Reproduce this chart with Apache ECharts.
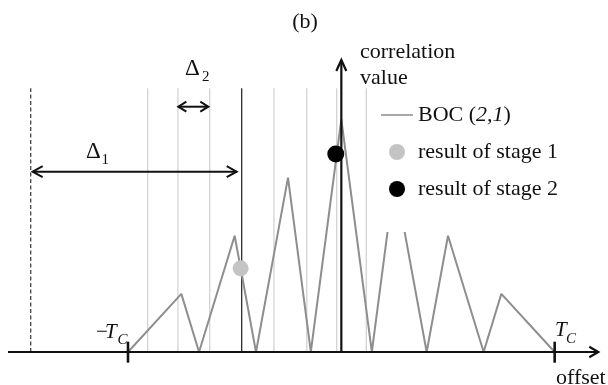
<!DOCTYPE html>
<html><head><meta charset="utf-8">
<script src="https://cdn.jsdelivr.net/npm/echarts@6/dist/echarts.min.js"></script>
<style>html,body{margin:0;padding:0;background:#fff}#c{width:608px;height:385px}</style>
</head><body><div id="c"></div>
<script>
// ---- data (offset in units of Tc, normalised correlation value) ----
const bocOffset = [-1, -0.75, -0.667, -0.5, -0.4, -0.25, -0.143, 0, 0.143, 0.25, 0.4, 0.5, 0.667, 0.75, 1];
const bocValue  = [0, 0.25, 0, 0.5, 0, 0.75, 0, 1, 0, 0.75, 0, 0.5, 0, 0.25, 0];
const stage1Point = [-0.472, 0.36];
const stage2Point = [-0.026, 0.852];
const searchGrid = [-0.908, -0.766, -0.617, -0.316, -0.162, -0.022, 0.117];
const stage1Line = -0.467;
const startLine = -1.456;
const lineTop = 1.134;
const tickOffsets = [-1, 1];
const delta1 = [-1.447, -0.4905, 0.7755];   // from, to, level
const delta2 = [-0.764, -0.6236, 1.055];
const xRange = [-1.6, 1.25];
const yRange = [-0.142, 1.514];
const xAxisEnds = [-1.5625, 1.2045];
const yAxisTop = 1.256;

const W = 608, H = 385;
const kx = W / (xRange[1] - xRange[0]);
const ky = H / (yRange[1] - yRange[0]);
const FONT = '"Liberation Serif", "Times New Roman", serif';

function hArrow(tip, dir, len, half) {
  return [[tip[0] - dir * len / kx, tip[1] + half / ky], tip, [tip[0] - dir * len / kx, tip[1] - half / ky]];
}
function vArrow(tip, len, half) {
  return [[tip[0] - half / kx, tip[1] - len / ky], tip, [tip[0] + half / kx, tip[1] - len / ky]];
}
function vLine(u, top) { return {coords: [[u, 0], [u, top]]}; }

const axisPolys = [
  {coords: [[xAxisEnds[0], 0], [xAxisEnds[1], 0]]},
  {coords: hArrow([xAxisEnds[1], 0], 1, 9, 5.3)},
  {coords: [[0, 0], [0, yAxisTop]]},
  {coords: vArrow([0, yAxisTop], 11, 5)}
];
const tickPolys = tickOffsets.map(u => ({coords: [[u, 0.0443], [u, -0.046]]}));
const deltaPolys = [
  {coords: [[delta1[0], delta1[2]], [delta1[1], delta1[2]]]},
  {coords: hArrow([delta1[0], delta1[2]], -1, 10, 5.5)},
  {coords: hArrow([delta1[1], delta1[2]], 1, 10, 5.5)},
  {coords: [[delta2[0], delta2[2]], [delta2[1], delta2[2]]]},
  {coords: hArrow([delta2[0], delta2[2]], -1, 8, 5)},
  {coords: hArrow([delta2[1], delta2[2]], 1, 8, 5)}
];

const chart = echarts.init(document.getElementById('c'), null, {renderer: 'canvas'});
function txt(text, x, y, size, opts) {
  return Object.assign({type: 'text', x: x, y: y, z: 50, style: Object.assign({
    text: text, fill: '#111', font: (opts && opts.italic ? 'italic ' : '') + size + 'px ' + FONT,
    align: 'left', verticalAlign: 'middle'
  }, opts && opts.style || {})});
}
chart.setOption({
  animation: false,
  backgroundColor: '#fff',
  grid: {left: 0, right: 0, top: 0, bottom: 0},
  xAxis: {type: 'value', min: xRange[0], max: xRange[1], show: false},
  yAxis: {type: 'value', min: yRange[0], max: yRange[1], show: false},
  legend: {
    orient: 'vertical', left: 373, top: 98, selectedMode: false,
    itemWidth: 32, itemHeight: 16, itemGap: 15, symbolKeepAspect: true,
    padding: [6, 8, 32, 8], backgroundColor: '#fff', z: 20,
    data: [
      {name: 'BOC (2,1)', icon: 'path://M0,0 L32,0 L32,2 L0,2 Z', itemStyle: {color: '#a8a8a8'}},
      {name: 'result of stage 1', icon: 'circle'},
      {name: 'result of stage 2', icon: 'circle'}
    ],
    formatter: function (n) { return n === 'BOC (2,1)' ? 'BOC ({i|2,1})' : n; },
    textStyle: {fontFamily: FONT, fontSize: 22, color: '#111', lineHeight: 22,
      rich: {i: {fontFamily: FONT, fontSize: 22, fontStyle: 'italic', color: '#111'}}}
  },
  series: [
    {type: 'lines', coordinateSystem: 'cartesian2d', polyline: true, silent: true, z: 1,
      lineStyle: {color: '#d3d3d3', width: 1.3, opacity: 1},
      data: searchGrid.map(u => vLine(u, lineTop))},
    {type: 'lines', coordinateSystem: 'cartesian2d', polyline: true, silent: true, z: 2,
      lineStyle: {color: '#1a1a1a', width: 1.2, opacity: 1},
      data: [vLine(stage1Line, lineTop)]},
    {type: 'lines', coordinateSystem: 'cartesian2d', polyline: true, silent: true, z: 2,
      lineStyle: {color: '#333', width: 1.2, opacity: 1, type: [4, 2.5]},
      data: [vLine(startLine, lineTop)]},
    {name: 'BOC (2,1)', type: 'line', symbol: 'none', z: 3,
      lineStyle: {color: '#8e8e8e', width: 2},
      itemStyle: {color: '#a8a8a8'},
      data: bocOffset.map((u, i) => [u, bocValue[i]])},
    {type: 'lines', coordinateSystem: 'cartesian2d', polyline: true, silent: true, z: 4,
      lineStyle: {color: '#111', width: 2.2, opacity: 1, join: 'miter'},
      data: axisPolys},
    {type: 'lines', coordinateSystem: 'cartesian2d', polyline: true, silent: true, z: 4,
      lineStyle: {color: '#111', width: 2.6, opacity: 1},
      data: tickPolys},
    {type: 'lines', coordinateSystem: 'cartesian2d', polyline: true, silent: true, z: 4,
      lineStyle: {color: '#111', width: 2, opacity: 1},
      data: deltaPolys},
    {name: 'result of stage 1', type: 'scatter', symbol: 'circle', symbolSize: 16, z: 6,
      itemStyle: {color: '#c4c4c4', opacity: 1}, data: [stage1Point]},
    {name: 'result of stage 2', type: 'scatter', symbol: 'circle', symbolSize: 17, z: 6,
      itemStyle: {color: '#000', opacity: 1}, data: [stage2Point]}
  ],
  graphic: [
    txt('(b)', 305, 22, 22, {style: {align: 'center'}}),
    txt('correlation\nvalue', 360, 65, 22, {style: {lineHeight: 26}}),
    txt('Δ', 185, 69, 23),
    txt('2', 202, 77.5, 15),
    txt('Δ', 86, 152, 23),
    txt('1', 101.5, 160.5, 15),
    txt('−', 96, 332.5, 21),
    txt('T', 105, 332, 21, {italic: true}),
    txt('C', 117.5, 340.5, 15, {italic: true}),
    txt('T', 555, 330, 21, {italic: true}),
    txt('C', 566, 339, 15, {italic: true}),
    txt('offset', 556, 378, 22)
  ]
});
</script></body></html>
